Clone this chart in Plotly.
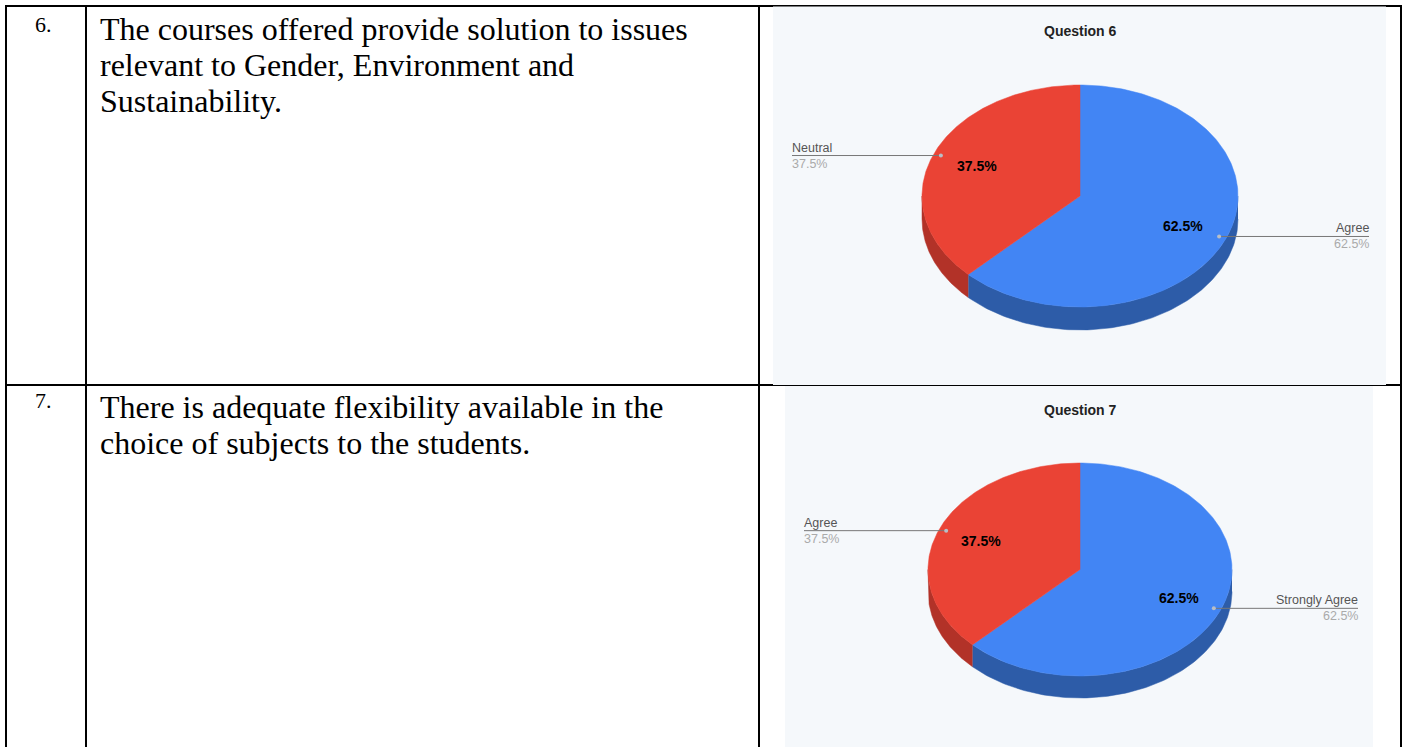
import numpy as np
import plotly.graph_objects as go

# ---- data ----
row_numbers = ["6.", "7."]
q6_text = ["The courses offered provide solution to issues",
           "relevant to Gender, Environment and",
           "Sustainability."]
q7_text = ["There is adequate flexibility available in the",
           "choice of subjects to the students."]
q6_title = "Question 6"
q7_title = "Question 7"
q6_labels = ["Agree", "Neutral"]
q6_values = [62.5, 37.5]
q7_labels = ["Strongly Agree", "Agree"]
q7_values = [62.5, 37.5]
slice_colors = ["#4285F4", "#EA4335"]
wall_colors = ["#2D5CA8", "#B23228"]

W, H = 1405, 747
PANEL = "#F5F8FB"
INK = "#000000"
SANS = "Liberation Sans, Arial, sans-serif"
SERIF = "Liberation Serif, Times New Roman, serif"

fig = go.Figure()
shapes, notes = [], []

# table rules (drawn first, the panels sit over part of them)
for x in (6, 86, 759, 1401):
    shapes.append(dict(type="line", x0=x, x1=x, y0=5, y1=747, layer="below", line=dict(color=INK, width=2)))
for y in (6, 385):
    shapes.append(dict(type="line", x0=5, x1=1402, y0=y, y1=y, layer="below", line=dict(color=INK, width=2)))


def note(x, y, text, size, color, family=SANS, anchor="left", bold=False):
    notes.append(dict(x=x, y=y, xref="x", yref="y", text=f"<b>{text}</b>" if bold else text,
                      showarrow=False, xanchor=anchor, yanchor="middle",
                      font=dict(size=size, color=color, family=family),
                      borderpad=0, borderwidth=0))


def pie(labels, values, title, panel, cx, cy, rx, ry, depth, title_y, left_x, right_x):
    shapes.append(dict(type="rect", x0=panel[0], x1=panel[1], y0=panel[2], y1=panel[3],
                       fillcolor=PANEL, line_width=0, layer="below"))
    note(cx, title_y, title, 14, "#222222", anchor="center", bold=True)
    total = sum(values)
    start = 0.0
    spans = []
    for v in values:
        spans.append((start, start + 360.0 * v / total))
        start = spans[-1][1]

    def pos(deg, k=1.0, dy=0.0):
        a = np.radians(deg)
        return cx + k * rx * np.sin(a), cy - k * ry * np.cos(a) + dy

    # side walls (only the near half of the disc shows them)
    for (a0, a1), col in zip(spans, wall_colors):
        lo, hi = max(a0, 90.0), min(a1, 270.0)
        if hi <= lo:
            continue
        t = np.linspace(lo, hi, 120)
        x1, y1 = pos(t)
        x2, y2 = pos(t[::-1], dy=depth)
        fig.add_trace(go.Scatter(x=np.r_[x1, x2], y=np.r_[y1, y2], mode="lines", fill="toself",
                                 fillcolor=col, line=dict(width=0.5, color=col), hoverinfo="skip"))
    # top face
    for (a0, a1), col in zip(spans, slice_colors):
        t = np.linspace(a0, a1, 240)
        x1, y1 = pos(t)
        fig.add_trace(go.Scatter(x=np.r_[cx, x1, cx], y=np.r_[cy, y1, cy], mode="lines", fill="toself",
                                 fillcolor=col, line=dict(width=0.5, color=col), hoverinfo="skip"))
    # labels and leaders
    for (a0, a1), lab, v in zip(spans, labels, values):
        mid = (a0 + a1) / 2
        pct = f"{100 * v / total:.1f}%"
        ix, iy = pos(mid, 0.708)
        note(ix, iy, pct, 14, "#000000", anchor="center", bold=True)
        dx, dy = pos(mid, 0.953)
        right = mid < 180
        end = right_x if right else left_x
        fig.add_trace(go.Scatter(x=[dx, end], y=[dy, dy], mode="lines",
                                 line=dict(width=1, color="#777777"), hoverinfo="skip"))
        fig.add_trace(go.Scatter(x=[dx], y=[dy], mode="markers",
                                 marker=dict(size=4, color="#B9BEC6"), hoverinfo="skip"))
        anc = "right" if right else "left"
        note(end, dy - 8, lab, 12.5, "#555555", anchor=anc)
        note(end, dy + 8, pct, 12.5, "#AAAAAA", anchor=anc)


pie(q6_labels, q6_values, q6_title, (773, 1386, 6.5, 385), 1080, 196, 158, 111, 23, 31, 792, 1369)
pie(q7_labels, q7_values, q7_title, (785, 1373, 386, 747), 1080, 569.5, 152, 106.5, 22, 410, 804, 1358)

# table text
note(35, 24, row_numbers[0], 22, INK, SERIF)
note(35, 400, row_numbers[1], 22, INK, SERIF)
for y, line in zip((29, 65, 101), q6_text):
    note(100, y, line, 32, INK, SERIF)
for y, line in zip((407, 443), q7_text):
    note(100, y, line, 32, INK, SERIF)

fig.update_layout(
    width=W, height=H, margin=dict(l=0, r=0, t=0, b=0),
    paper_bgcolor="white", plot_bgcolor="white", showlegend=False,
    xaxis=dict(range=[0, W], visible=False, fixedrange=True),
    yaxis=dict(range=[H, 0], visible=False, fixedrange=True),
    shapes=shapes, annotations=notes,
)
fig.write_html("out.html", config=dict(displayModeBar=False),
               post_script="document.body.style.margin='0';document.body.style.overflow='hidden';")
